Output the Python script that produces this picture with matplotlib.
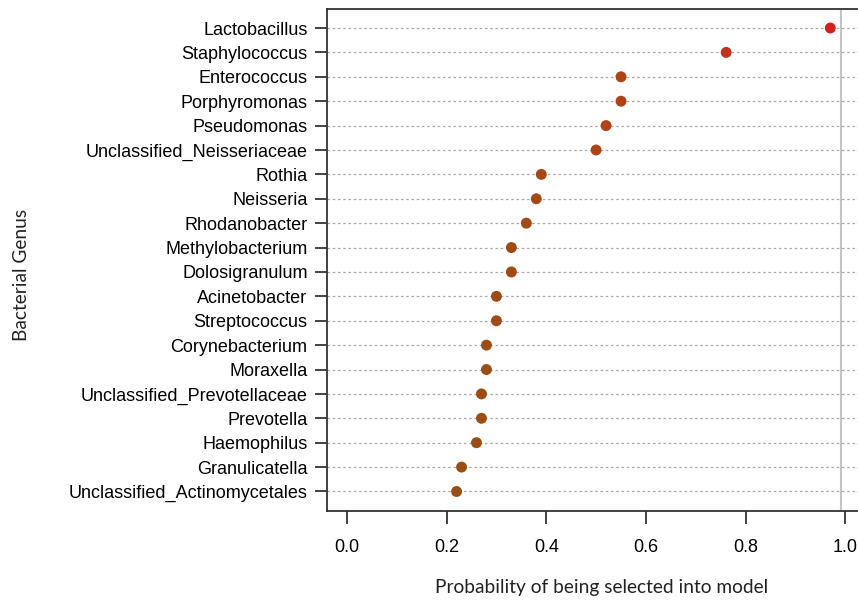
import matplotlib
matplotlib.use("Agg")
import matplotlib.pyplot as plt
from matplotlib.colors import LinearSegmentedColormap
import numpy as np

genera = [
    "Lactobacillus", "Staphylococcus", "Enterococcus", "Porphyromonas",
    "Pseudomonas", "Unclassified_Neisseriaceae", "Rothia", "Neisseria",
    "Rhodanobacter", "Methylobacterium", "Dolosigranulum", "Acinetobacter",
    "Streptococcus", "Corynebacterium", "Moraxella",
    "Unclassified_Prevotellaceae", "Prevotella", "Haemophilus",
    "Granulicatella", "Unclassified_Actinomycetales",
]
prob = [0.970, 0.761, 0.55, 0.55, 0.52, 0.50, 0.39, 0.38, 0.36, 0.33,
        0.33, 0.30, 0.30, 0.28, 0.28, 0.27, 0.27, 0.26, 0.23, 0.22]
x_ticks = [0.0, 0.2, 0.4, 0.6, 0.8, 1.0]

cmap = LinearSegmentedColormap.from_list("brownred", ["#974F14", "#B54016", "#D61E20"])

fig = plt.figure(figsize=(8.58, 6.02), dpi=100)
ax = fig.add_axes([327 / 858, 1 - 511 / 602, 1.02 - 327 / 858, 502 / 602])

n = len(genera)
y = np.arange(n)[::-1]
for yy in y:
    ax.axhline(yy, color="#a8a8a8", lw=0.9, ls=(0, (2, 2.2)), zorder=1)
ax.axvline(0.992, color="#c4c4c4", lw=1.5, zorder=1)

cols = [cmap((p - 0.2) / 0.8) for p in prob]
ax.scatter(prob, y, s=62, c=cols, zorder=3, linewidths=0)

ax.set_xlim(-0.04, 1.06)
ax.set_ylim(-0.8, n - 0.22)
ax.set_yticks(y)
ax.set_yticklabels(genera, fontfamily="Liberation Sans", fontsize=13)
ax.set_xticks(x_ticks)
ax.set_xticklabels([f"{t:.1f}" for t in x_ticks], fontfamily="Liberation Sans", fontsize=13)
ax.tick_params(axis="y", length=9, width=1.2, pad=5, color="#222222")
ax.tick_params(axis="x", length=9, width=1.2, pad=11, color="#222222")
for s in ax.spines.values():
    s.set_linewidth(1.3)
    s.set_color("#333333")

ax.set_xlabel("Probability of being selected into model", fontfamily="Lato",
              fontsize=13.8, labelpad=17, color="#222222")
fig.text(22 / 858, 1 - 275 / 602, "Bacterial Genus", rotation=90, fontfamily="Lato",
         fontsize=13.8, ha="center", va="center", color="#222222")

fig.savefig("out.png", dpi=100)
